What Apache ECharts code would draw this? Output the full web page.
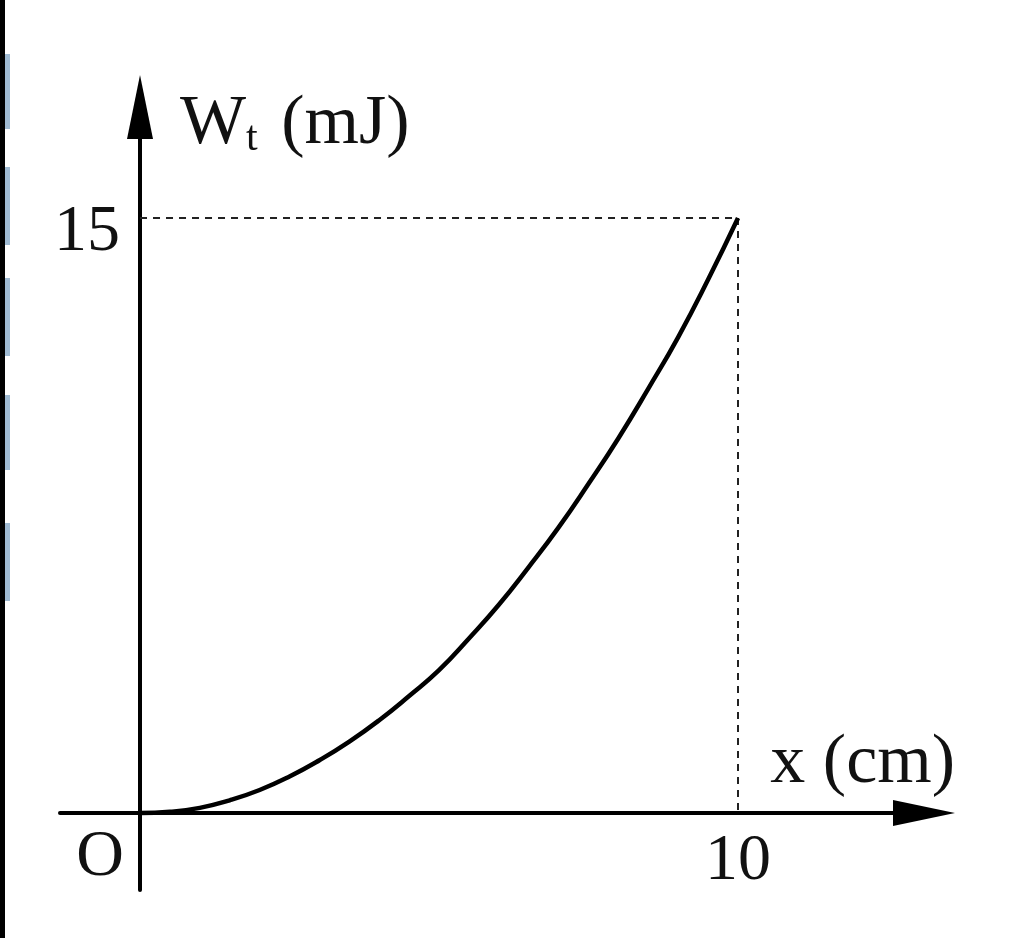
<!DOCTYPE html>
<html>
<head>
<meta charset="utf-8">
<script src="https://cdn.jsdelivr.net/npm/echarts@6/dist/echarts.min.js"></script>
<style>
html,body{margin:0;padding:0;background:#fff;}
#chart{width:1024px;height:938px;}
</style>
</head>
<body>
<div id="chart"></div>
<script>
// Data
const xValues = [0, 0.5, 1, 1.5, 2, 2.5, 3, 3.5, 4, 4.5, 5, 5.5, 6, 6.5, 7, 7.5, 8, 8.5, 9, 9.5, 10];
const wValues = [0, 0.03, 0.13, 0.32, 0.58, 0.92, 1.33, 1.8, 2.34, 2.95, 3.6, 4.4, 5.25, 6.2, 7.2, 8.3, 9.45, 10.7, 12.0, 13.45, 15];
const xTickValues = [0, 10];
const xTickLabels = ['{o|O}', '{n|10}'];
const yTickValues = [15];
const guidePoint = [10, 15];
const xAxisTitle = 'x (cm)';
const yAxisTitle = '{w|W}{t|t} (mJ)';

const FONT = 'Liberation Serif';
const chart = echarts.init(document.getElementById('chart'), null, {renderer: 'canvas'});

const seriesData = xValues.map((x, i) => [x, wValues[i]]);

chart.setOption({
  animation: false,
  backgroundColor: '#ffffff',
  grid: {left: 60, right: 100, top: 107, bottom: 48, containLabel: false, outerBoundsMode: 'none'},
  xAxis: {
    type: 'value',
    min: -1.338,
    max: 13.11,
    axisLine: {
      onZero: true,
      symbol: ['none', 'triangle'],
      symbolSize: [26, 62],
      lineStyle: {color: '#000', width: 4}
    },
    axisTick: {show: false},
    splitLine: {show: false},
    axisLabel: {
      customValues: xTickValues,
      formatter: (v) => xTickLabels[xTickValues.indexOf(v)],
      fontFamily: FONT,
      fontSize: 66,
      color: '#111',
      margin: -65,
      rich: {
        o: {fontFamily: FONT, fontSize: 66, color: '#111', padding: [0, 80, 0, 0]},
        n: {fontFamily: FONT, fontSize: 66, color: '#111', padding: [4, 0, 0, 0]}
      }
    },
    name: xAxisTitle,
    nameLocation: 'end',
    nameGap: 31,
    nameTextStyle: {
      fontFamily: FONT, fontSize: 70, color: '#111',
      align: 'right', verticalAlign: 'bottom', padding: [0, 0, 14, 0]
    }
  },
  yAxis: {
    type: 'value',
    min: -1.941,
    max: 17.8,
    axisLine: {
      onZero: true,
      symbol: ['none', 'triangle'],
      symbolSize: [26, 64],
      lineStyle: {color: '#000', width: 4}
    },
    axisTick: {show: false},
    splitLine: {show: false},
    axisLabel: {
      customValues: yTickValues,
      formatter: (v) => '{y|' + v + '}',
      fontFamily: FONT,
      fontSize: 66,
      color: '#111',
      margin: -60,
      rich: {
        y: {fontFamily: FONT, fontSize: 66, color: '#111', padding: [30, 0, 0, 0]}
      }
    },
    name: yAxisTitle,
    nameLocation: 'end',
    nameGap: 17,
    nameTextStyle: {
      fontFamily: FONT, fontSize: 70, color: '#111',
      align: 'left', verticalAlign: 'top', padding: [0, 0, 0, 40],
      rich: {
        w: {fontFamily: FONT, fontSize: 70, color: '#111'},
        t: {fontFamily: FONT, fontSize: 42, color: '#111', verticalAlign: 'bottom', padding: [0, 6, 0, 0]}
      }
    }
  },
  series: [{
    type: 'line',
    data: seriesData,
    smooth: 0.5,
    showSymbol: false,
    lineStyle: {color: '#000', width: 4.5},
    z: 5,
    markLine: {
      silent: true,
      symbol: 'none',
      label: {show: false},
      lineStyle: {type: [7, 6], width: 2, color: '#222'},
      data: [
        [{coord: [0, guidePoint[1]]}, {coord: guidePoint}],
        [{coord: guidePoint}, {coord: [guidePoint[0], 0]}]
      ]
    }
  }],
  graphic: [
    {type: 'rect', left: 0, top: 0, shape: {width: 5, height: 938}, style: {fill: '#000'}},
    {type: 'rect', left: 5, top: 54, shape: {width: 5, height: 75}, style: {fill: '#9fbad2'}},
    {type: 'rect', left: 5, top: 167, shape: {width: 5, height: 78}, style: {fill: '#9fbad2'}},
    {type: 'rect', left: 5, top: 278, shape: {width: 5, height: 78}, style: {fill: '#9fbad2'}},
    {type: 'rect', left: 5, top: 395, shape: {width: 5, height: 75}, style: {fill: '#9fbad2'}},
    {type: 'rect', left: 5, top: 523, shape: {width: 5, height: 78}, style: {fill: '#9fbad2'}}
  ]
});
</script>
</body>
</html>
